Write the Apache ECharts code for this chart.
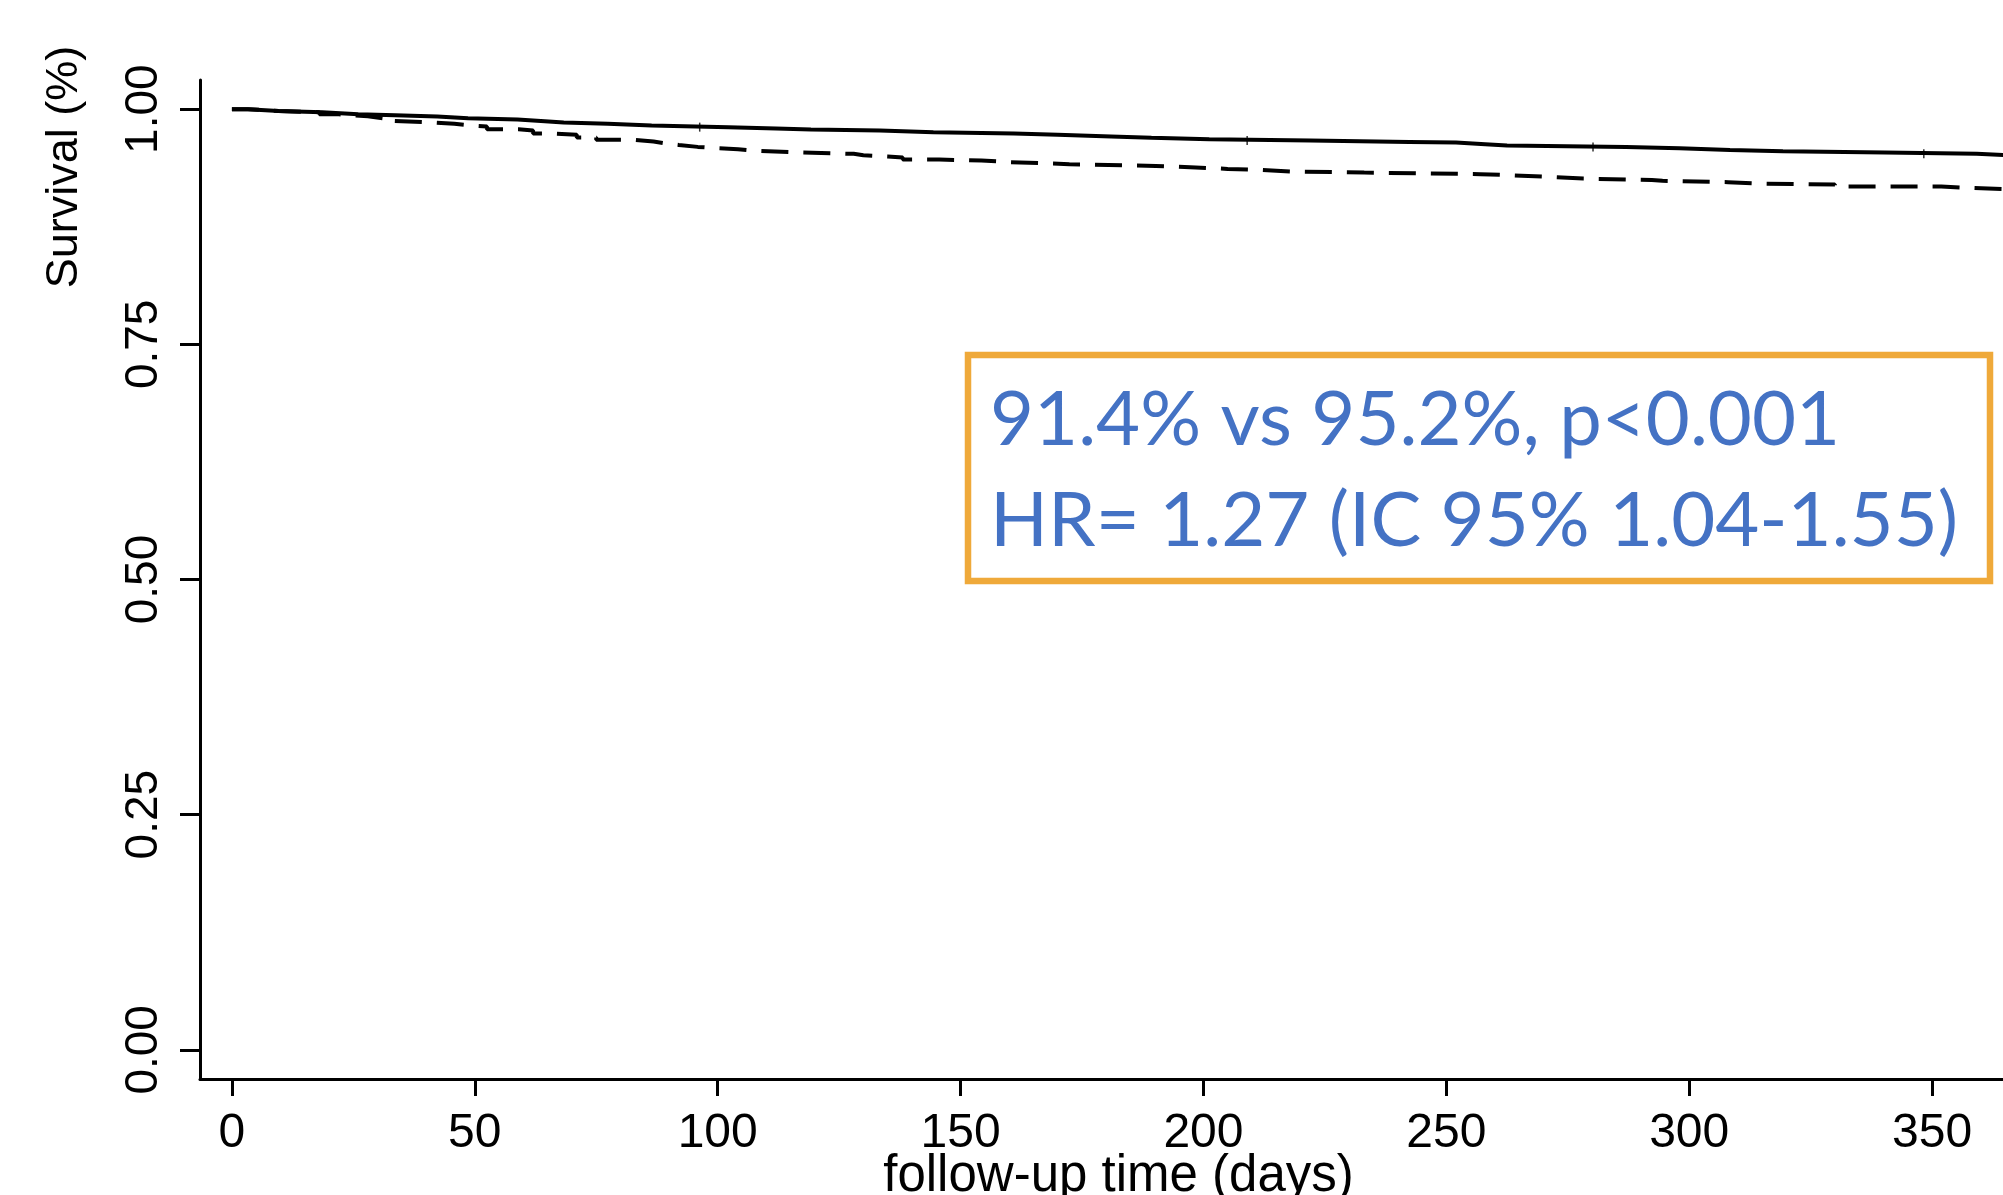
<!DOCTYPE html>
<html>
<head>
<meta charset="utf-8">
<title>Survival</title>
<script src="https://cdn.jsdelivr.net/npm/echarts@6/dist/echarts.min.js"></script>
<style>
    html, body { margin: 0; padding: 0; background: #fff; }
    #main { width: 2003px; height: 1195px; }
</style>
</head>
<body>
<div id="main"></div>
<script>
// 数据：Kaplan-Meier 曲线
const xTicks = [0, 50, 100, 150, 200, 250, 300, 350];
const yTicks = [0, 0.25, 0.5, 0.75, 1];

// 实线组（95.2%）
const solidDays = [0, 3.3, 9.6, 18.6, 26, 33.6, 42.3, 48.6, 58.8, 64.4, 68.3, 77.4, 86.4, 102.2, 112, 119.2,
    133.4, 144.4, 161, 170, 181, 189.3, 201.2, 222, 242.4, 252, 258, 262.5, 287, 298, 308.4, 319.3, 340.3, 359.2, 365];
const solidSurv = [1.000, 0.998, 0.9968, 0.9947, 0.9935, 0.9921, 0.9904, 0.9889, 0.9872, 0.9858, 0.9844, 0.9826, 0.9809, 0.9794, 0.9783, 0.9773,
    0.9755, 0.9741, 0.9727, 0.9709, 0.9695, 0.9681, 0.9667, 0.9652, 0.9645, 0.9628, 0.9613, 0.9599, 0.9585, 0.9567, 0.9553, 0.9539, 0.9525, 0.9511, 0.9511];
// 实线上的删失标记
const censorDays = [96.3, 209, 280.2, 348.3];

// 虚线组（91.4%）
const dashDays = [0, 3.3, 9.6, 18, 22, 28, 31, 33, 41, 45.8, 50, 52.5, 59, 62, 66, 71, 75, 83, 86.8, 88.9, 92, 95.9, 100, 104.2, 108, 117,
    128, 130, 135, 138.1, 145.6, 154.3, 160, 167, 172.4, 190.2, 198.4, 205, 211.4, 218.2, 233.1,
    257, 261.3, 271, 278.2, 292.3, 294.5, 308, 315, 330, 351.9, 357.5, 365];
const dashSurv = [1.000, 0.998, 0.9968, 0.9945, 0.9925, 0.9904, 0.9876, 0.9858, 0.9844, 0.9823, 0.9815, 0.9787, 0.9773, 0.9741, 0.9727, 0.9698, 0.9674, 0.9656, 0.9639, 0.9620, 0.9599, 0.9585, 0.9575, 0.9557, 0.9539, 0.9525,
    0.951, 0.9496, 0.9486, 0.9464, 0.9454, 0.9437, 0.9426, 0.9415, 0.9397, 0.938, 0.9365, 0.9355, 0.9337, 0.9326, 0.9309,
    0.9302, 0.9281, 0.9262, 0.9248, 0.9238, 0.9224, 0.9209, 0.9199, 0.9177, 0.9163, 0.915, 0.915];

const noteLines = ['91.4% vs 95.2%, p<0.001', 'HR= 1.27 (IC 95% 1.04-1.55)'];

function pairs(xs, ys) {
    return xs.map(function (x, i) { return [x, ys[i]]; });
}
// 取某一时间点的生存率（阶梯函数）
function survAt(xs, ys, t) {
    let v = ys[0];
    for (let i = 0; i < xs.length; i++) {
        if (xs[i] <= t) v = ys[i];
    }
    return v;
}

const axisFont = 'Liberation Sans';

let myChart = echarts.init(document.getElementById('main'));
let option = {
    animation: false,
    backgroundColor: '#ffffff',
    grid: {
        left: 200,
        top: 80,
        width: 1837,
        height: 999,
        outerBoundsMode: 'none'
    },
    xAxis: {
        type: 'value',
        min: -6.57,
        max: 371.6,
        name: 'follow-up time (days)',
        nameLocation: 'middle',
        nameGap: 72,
        nameMoveOverlap: false,
        nameTextStyle: { color: '#000', fontSize: 51, fontFamily: axisFont },
        splitLine: { show: false },
        axisLine: { onZero: false, lineStyle: { color: '#000', width: 3 } },
        axisTick: {
            customValues: xTicks,
            length: 17,
            lineStyle: { color: '#000', width: 3 }
        },
        axisLabel: {
            customValues: xTicks,
            margin: 31,
            color: '#000',
            fontSize: 48,
            fontFamily: axisFont
        }
    },
    yAxis: {
        type: 'value',
        min: -0.031,
        max: 1.031,
        splitLine: { show: false },
        axisLine: { onZero: false, lineStyle: { color: '#000', width: 3 } },
        axisTick: {
            customValues: yTicks,
            length: 20,
            lineStyle: { color: '#000', width: 3 }
        },
        axisLabel: {
            customValues: yTicks,
            rotate: 90,
            margin: 33,
            color: '#000',
            fontSize: 46,
            fontFamily: axisFont,
            formatter: function (v) { return v.toFixed(2); }
        }
    },
    series: [
        {
            type: 'line',
            step: 'end',
            showSymbol: false,
            data: pairs(solidDays, solidSurv),
            lineStyle: { color: '#000', width: 4 }
        },
        {
            type: 'line',
            step: 'end',
            showSymbol: false,
            data: pairs(dashDays, dashSurv),
            lineStyle: { color: '#000', width: 4, type: [27, 15], cap: 'butt' }
        },
        {
            // 删失刻度
            type: 'scatter',
            symbol: 'rect',
            symbolSize: [1.5, 9],
            itemStyle: { color: '#000' },
            data: censorDays.map(function (d) { return [d, survAt(solidDays, solidSurv, d)]; })
        }
    ],
    graphic: [
        {
            type: 'text',
            x: 65,
            y: 167,
            rotation: Math.PI / 2,
            style: {
                text: 'Survival (%)',
                fill: '#000',
                font: '45px "Liberation Sans"',
                align: 'center',
                verticalAlign: 'middle'
            }
        },
        {
            type: 'rect',
            shape: { x: 968, y: 355, width: 1022, height: 226 },
            style: { fill: 'rgba(255,255,255,0)', stroke: '#EFA93A', lineWidth: 6.5 }
        },
        {
            type: 'text',
            x: 990,
            y: 420,
            style: {
                text: noteLines[0],
                fill: '#4472C4',
                font: '76px Lato',
                align: 'left',
                verticalAlign: 'middle'
            }
        },
        {
            type: 'text',
            x: 990,
            y: 521,
            style: {
                text: noteLines[1],
                fill: '#4472C4',
                font: '76px Lato',
                align: 'left',
                verticalAlign: 'middle'
            }
        }
    ]
};
myChart.setOption(option);

window.addEventListener('resize', function () {
    myChart.resize();
});
</script>
</body>
</html>
